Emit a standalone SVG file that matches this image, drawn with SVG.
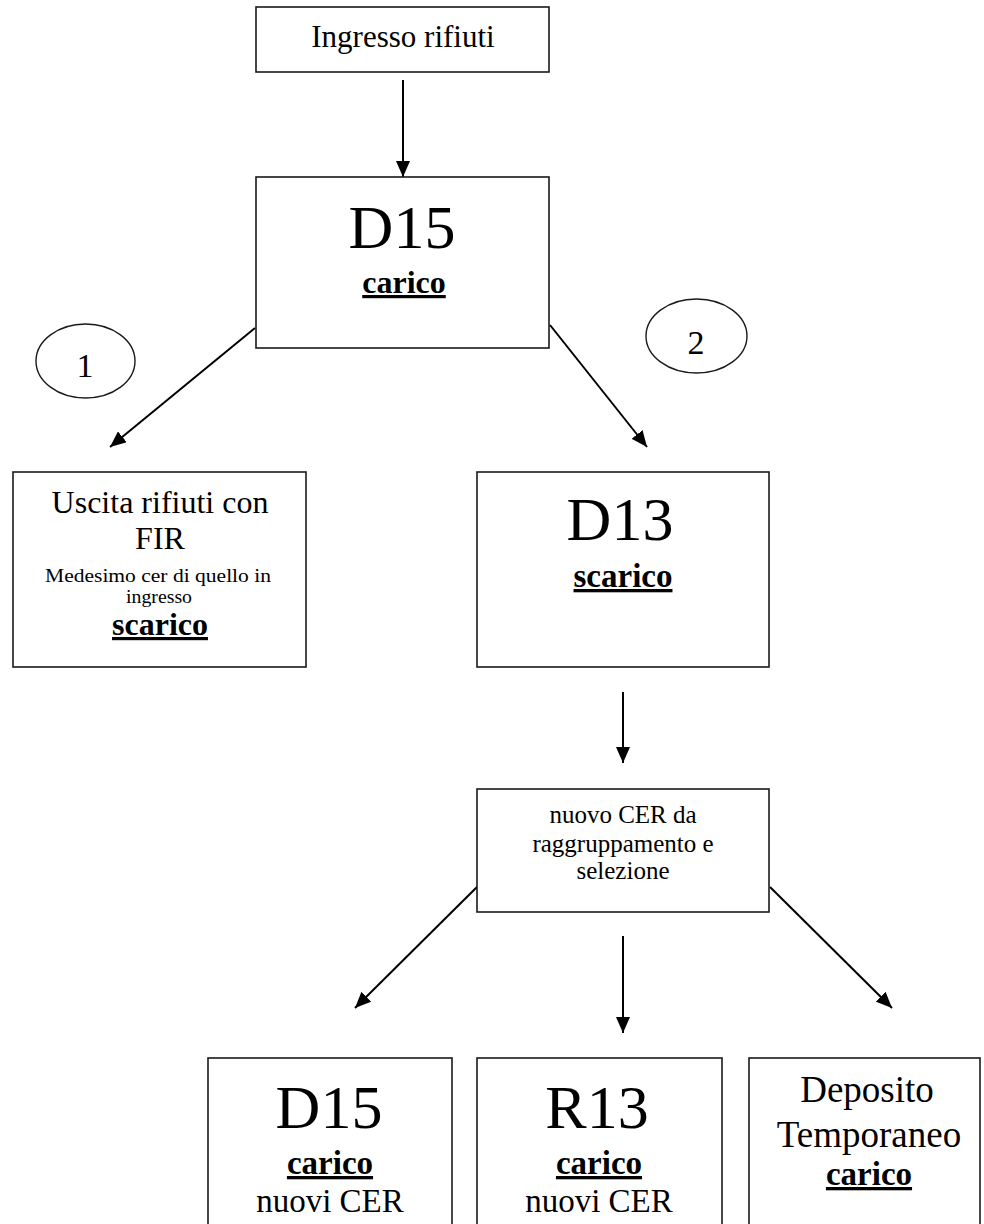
<svg xmlns="http://www.w3.org/2000/svg" width="984" height="1224" viewBox="0 0 984 1224">
<defs>
<style>
.box{fill:#fff;stroke:#1a1a1a;stroke-width:1.6}
.oval{fill:none;stroke:#1a1a1a;stroke-width:1.4}
.t{font-family:"Liberation Serif","Times New Roman",serif;fill:#000;text-anchor:middle}
.b{font-weight:bold;text-decoration:underline;text-decoration-thickness:3px;text-underline-offset:3px}
.conn{stroke:#000;stroke-width:2;fill:none;marker-end:url(#arr)}
</style>
<marker id="arr" viewBox="0 0 16 14" refX="16" refY="7" markerWidth="16" markerHeight="14" markerUnits="userSpaceOnUse" orient="auto">
<path d="M0,0 L16,7 L0,14 z" fill="#000"/>
</marker>
</defs>
<rect width="984" height="1224" fill="#fff"/>
<g id="connectors">
<line class="conn" x1="403" y1="80" x2="403" y2="177"/>
<line class="conn" x1="255" y1="328" x2="110" y2="447"/>
<line class="conn" x1="550" y1="325" x2="647" y2="447"/>
<line class="conn" x1="623" y1="692" x2="623" y2="763"/>
<line class="conn" x1="477" y1="887" x2="355" y2="1008"/>
<line class="conn" x1="623" y1="936" x2="623" y2="1033"/>
<line class="conn" x1="770" y1="887" x2="892" y2="1008"/>
</g>
<g id="ingresso">
<rect class="box" x="256" y="7" width="293" height="65"/>
<text class="t" x="403" y="47" font-size="31">Ingresso rifiuti</text>
</g>
<g id="d15-top">
<rect class="box" x="256" y="177" width="293" height="171"/>
<text class="t" x="402" y="248" font-size="62">D15</text>
<text class="t b" x="404" y="293" font-size="32">carico</text>
</g>
<g id="label-1">
<ellipse class="oval" cx="85.5" cy="361" rx="49.5" ry="37"/>
<text class="t" x="85" y="377" font-size="34">1</text>
</g>
<g id="label-2">
<ellipse class="oval" cx="696.5" cy="336" rx="50.5" ry="37"/>
<text class="t" x="696" y="354" font-size="34">2</text>
</g>
<g id="uscita">
<rect class="box" x="13" y="472" width="293" height="195"/>
<text class="t" x="160" y="513" font-size="32">Uscita rifiuti con</text>
<text class="t" x="160" y="549" font-size="32">FIR</text>
<text class="t" x="158" y="582" font-size="18" textLength="226" lengthAdjust="spacingAndGlyphs">Medesimo cer di quello in</text>
<text class="t" x="159" y="603" font-size="18" textLength="66" lengthAdjust="spacingAndGlyphs">ingresso</text>
<text class="t b" x="160" y="635" font-size="32">scarico</text>
</g>
<g id="d13">
<rect class="box" x="477" y="472" width="292" height="195"/>
<text class="t" x="620" y="540" font-size="62">D13</text>
<text class="t b" x="623" y="587" font-size="33">scarico</text>
</g>
<g id="nuovo-cer">
<rect class="box" x="477" y="789" width="292" height="123"/>
<text class="t" x="623" y="823" font-size="25">nuovo CER da</text>
<text class="t" x="623" y="852" font-size="25">raggruppamento e</text>
<text class="t" x="623" y="879" font-size="25">selezione</text>
</g>
<g id="d15-bottom">
<rect class="box" x="208" y="1058" width="244" height="180"/>
<text class="t" x="329" y="1128" font-size="62">D15</text>
<text class="t b" x="330" y="1174" font-size="33">carico</text>
<text class="t" x="330" y="1212" font-size="33">nuovi CER</text>
</g>
<g id="r13">
<rect class="box" x="477" y="1058" width="245" height="180"/>
<text class="t" x="597" y="1128" font-size="62">R13</text>
<text class="t b" x="599" y="1174" font-size="33">carico</text>
<text class="t" x="599" y="1212" font-size="33">nuovi CER</text>
</g>
<g id="deposito">
<rect class="box" x="749" y="1058" width="231" height="180"/>
<text class="t" x="867" y="1102" font-size="37">Deposito</text>
<text class="t" x="869" y="1147" font-size="37">Temporaneo</text>
<text class="t b" x="869" y="1185" font-size="33">carico</text>
</g>
</svg>
